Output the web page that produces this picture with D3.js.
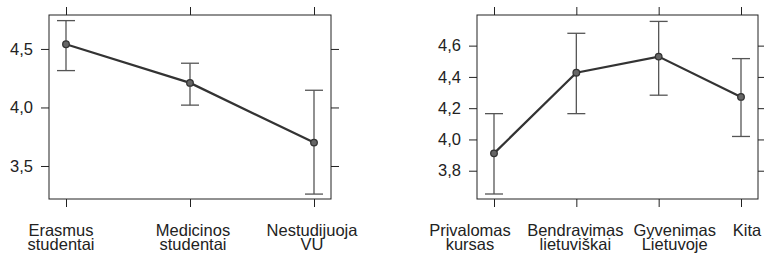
<!DOCTYPE html>
<html>
<head>
<meta charset="utf-8">
<script src="https://cdn.jsdelivr.net/npm/d3@7"></script>
<style>
  body { margin: 0; background: #fff; }
  svg text { font-family: "Liberation Sans", Arial, sans-serif; fill: #222; }
</style>
</head>
<body>
<svg id="chart" width="764" height="256"></svg>
<script>
// left panel data
var groupsA = [['Erasmus', 'studentai'], ['Medicinos', 'studentai'], ['Nestudijuoja', 'VU']];
var meanA = [4.54, 4.21, 3.70];
var lowA = [4.315, 4.02, 3.26];
var highA = [4.742, 4.378, 4.147];
var ticksA = [3.5, 4.0, 4.5];

// right panel data
var groupsB = [['Privalomas', 'kursas'], ['Bendravimas', 'lietuviškai'], ['Gyvenimas', 'Lietuvoje'], ['Kita']];
var meanB = [3.911, 4.427, 4.53, 4.272];
var lowB = [3.651, 4.165, 4.283, 4.019];
var highB = [4.165, 4.679, 4.755, 4.517];
var ticksB = [3.8, 4.0, 4.2, 4.4, 4.6];

var svg = d3.select('#chart');
var fmt = d => d3.format('.1f')(d).replace('.', ',');

function panel(opts){
    var g = svg.append('g');
    var n = opts.groups.length;
    var x = d3.scalePoint().domain(d3.range(n)).range([opts.x0 + opts.pad, opts.x1 - opts.pad]);
    var y = d3.scaleLinear().domain(opts.ydom).range([199, 15]);
    var tk = 8;

    // frame
    g.append('rect').attr('x', opts.x0).attr('y', 15)
        .attr('width', opts.x1 - opts.x0).attr('height', 184)
        .attr('fill', 'none').attr('stroke', '#222').attr('stroke-width', 1);

    // axes (ticks only, category labels drawn by hand for the wrap)
    var left = g.append('g').attr('transform', 'translate(' + opts.x0 + ',0)')
        .call(d3.axisLeft(y).tickValues(opts.ticks).tickSize(tk).tickPadding(8).tickFormat(fmt));
    var right = g.append('g').attr('transform', 'translate(' + opts.x1 + ',0)')
        .call(d3.axisRight(y).tickValues(opts.ticks).tickSize(tk).tickFormat(''));
    var top = g.append('g').attr('transform', 'translate(0,15)')
        .call(d3.axisTop(x).tickSize(tk).tickFormat(''));
    var bottom = g.append('g').attr('transform', 'translate(0,199)')
        .call(d3.axisBottom(x).tickSize(tk).tickFormat(''));
    [left, right, top, bottom].forEach(function(a){
        a.select('.domain').remove();
        a.selectAll('line').attr('stroke', '#222');
    });
    left.selectAll('text').attr('font-size', '16.5px').attr('fill', '#222')
        .attr('font-family', '"Liberation Sans", Arial, sans-serif');

    // category labels (nudged sideways so neighbours do not collide)
    var lab = g.selectAll('text.cat').data(opts.groups).enter().append('text')
        .attr('class', 'cat').attr('text-anchor', 'middle').attr('font-size', '16.5px')
        .attr('x', (d, i) => x(i) + opts.nudge[i]).attr('y', 236);
    lab.selectAll('tspan').data(d => d).enter().append('tspan')
        .attr('x', function(){ return d3.select(this.parentNode).attr('x'); })
        .attr('dy', (d, i) => i ? 14 : 0).text(d => d);

    // error bars
    var eb = g.selectAll('g.eb').data(opts.mean).enter().append('g').attr('class', 'eb');
    eb.append('line').attr('x1', (d, i) => x(i)).attr('x2', (d, i) => x(i))
        .attr('y1', (d, i) => y(opts.low[i])).attr('y2', (d, i) => y(opts.high[i]));
    eb.append('line').attr('x1', (d, i) => x(i) - 9).attr('x2', (d, i) => x(i) + 9)
        .attr('y1', (d, i) => y(opts.high[i])).attr('y2', (d, i) => y(opts.high[i]));
    eb.append('line').attr('x1', (d, i) => x(i) - 9).attr('x2', (d, i) => x(i) + 9)
        .attr('y1', (d, i) => y(opts.low[i])).attr('y2', (d, i) => y(opts.low[i]));
    eb.selectAll('line').attr('stroke', '#555').attr('stroke-width', 1.3);

    // mean line + points
    g.append('path').datum(opts.mean)
        .attr('d', d3.line().x((d, i) => x(i)).y(d => y(d)))
        .attr('fill', 'none').attr('stroke', '#333').attr('stroke-width', 2.2);
    g.selectAll('circle').data(opts.mean).enter().append('circle')
        .attr('cx', (d, i) => x(i)).attr('cy', d => y(d)).attr('r', 3.3)
        .attr('fill', '#666').attr('stroke', '#333').attr('stroke-width', 1.3);
}

panel({ groups: groupsA, mean: meanA, low: lowA, high: highA, ticks: ticksA,
        x0: 49, x1: 331, pad: 17, ydom: [3.218, 4.79], nudge: [-5, 3, -2] });
panel({ groups: groupsB, mean: meanB, low: lowB, high: highB, ticks: ticksB,
        x0: 477, x1: 758, pad: 17, ydom: [3.619, 4.796], nudge: [-24, -1, 16, 6] });
</script>
</body>
</html>
